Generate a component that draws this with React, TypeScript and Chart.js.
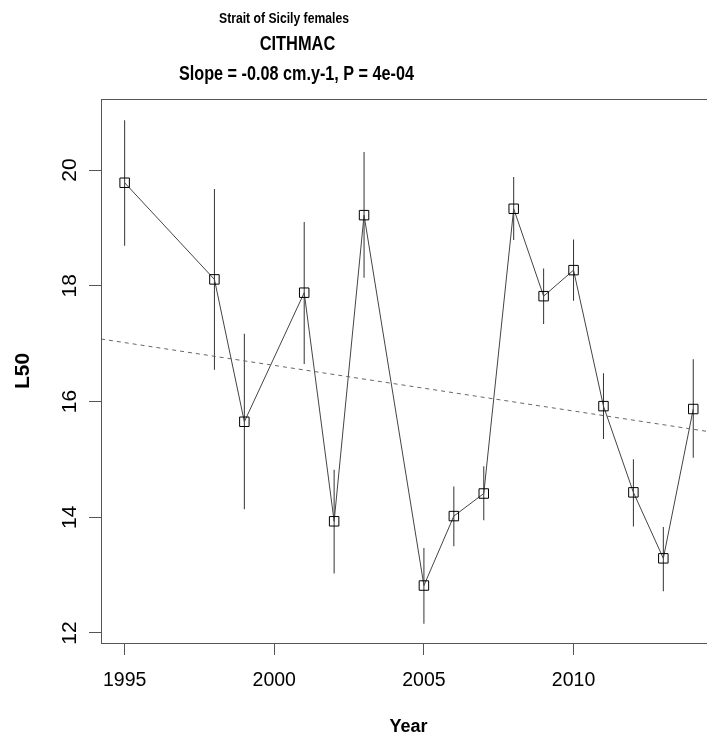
import React, { useEffect, useRef } from "react";
import { Chart, registerables } from "chart.js";

Chart.register(...registerables);

// ---- data ----
const years = [1995, 1998, 1999, 2001, 2002, 2003, 2005, 2006, 2007, 2008, 2009, 2010, 2011, 2012, 2013, 2014];
const l50 = [19.78, 18.11, 15.65, 17.88, 13.93, 19.22, 12.82, 14.02, 14.41, 19.33, 17.82, 18.27, 15.92, 14.43, 13.29, 15.87];
const ciLow = [18.69, 16.55, 14.14, 16.65, 13.03, 18.14, 12.16, 13.5, 13.95, 18.79, 17.34, 17.74, 15.35, 13.84, 12.72, 15.03];
const ciHigh = [20.86, 19.67, 17.17, 19.1, 14.82, 20.31, 13.47, 14.53, 14.88, 19.88, 18.3, 18.8, 16.49, 15.0, 13.83, 16.73];
const trendYears = [1994.21, 2014.76];
const trendL50 = [17.08, 15.46];
const xTicks = [1995, 2000, 2005, 2010];
const yTicks = [12, 14, 16, 18, 20];
const titleLines = ["Strait of Sicily females", "CITHMAC", "Slope = -0.08 cm.y-1, P = 4e-04"];
const xTitle = "Year";
const yTitle = "L50";

const FONT = '"Liberation Sans", Arial, Helvetica, sans-serif';

const titlePlugin = {
  id: "rTitles",
  afterDraw(chart: any) {
    const ctx = chart.ctx;
    const specs = [
      { size: 14.5, sx: 0.84, cx: 284, base: 22.5 },
      { size: 20.5, sx: 0.8, cx: 297.5, base: 50 },
      { size: 20.5, sx: 0.79, cx: 296.5, base: 80 },
    ];
    titleLines.forEach((t, i) => {
      const s = specs[i];
      ctx.save();
      ctx.font = `bold ${s.size}px ${FONT}`;
      ctx.fillStyle = "#000";
      ctx.textAlign = "center";
      ctx.textBaseline = "alphabetic";
      ctx.translate(s.cx, s.base);
      ctx.scale(s.sx, 1);
      ctx.fillText(t, 0, 0);
      ctx.restore();
    });
  },
};

const boxPlugin = {
  id: "rBox",
  afterDraw(chart: any) {
    const { left, top, right, bottom } = chart.chartArea;
    const ctx = chart.ctx;
    ctx.save();
    ctx.strokeStyle = "#555";
    ctx.lineWidth = 1;
    ctx.strokeRect(Math.round(left) + 0.5, Math.round(top) + 0.5, Math.round(right - left), Math.round(bottom - top));
    ctx.restore();
  },
};

export default function App() {
  const ref = useRef<HTMLCanvasElement | null>(null);

  useEffect(() => {
    if (!ref.current) return;
    Chart.defaults.font.family = FONT;
    const chart = new Chart(ref.current, {
      type: "line",
      data: {
        datasets: [
          {
            type: "bar",
            label: "CI",
            data: years.map((x, i) => ({ x, y: [ciLow[i], ciHigh[i]] })) as any,
            backgroundColor: "#333",
            borderWidth: 0,
            barThickness: 1,
            inflateAmount: 0,
            grouped: false,
            order: 3,
          } as any,
          {
            type: "line",
            label: "L50",
            data: years.map((x, i) => ({ x, y: l50[i] })),
            borderColor: "#444",
            borderWidth: 1,
            tension: 0,
            pointStyle: "rect",
            pointRadius: 6.7,
            pointHoverRadius: 6.7,
            pointBorderColor: "#000",
            pointBorderWidth: 1,
            pointBackgroundColor: "rgba(0,0,0,0)",
            fill: false,
            order: 2,
          },
          {
            type: "line",
            label: "trend",
            data: trendYears.map((x, i) => ({ x, y: trendL50[i] })),
            borderColor: "#666",
            borderWidth: 1,
            borderDash: [4, 4],
            pointRadius: 0,
            fill: false,
            order: 1,
          },
        ],
      },
      options: {
        responsive: false,
        animation: false,
        devicePixelRatio: 1,
        layout: { padding: { left: 0, top: 99, right: 24, bottom: 0 } },
        plugins: {
          legend: { display: false },
          tooltip: { enabled: false },
          title: { display: false },
        },
        scales: {
          x: {
            type: "linear",
            min: 1994.21,
            max: 2014.76,
            offset: false,
            afterBuildTicks: (s: any) => {
              s.ticks = xTicks.map((v) => ({ value: v }));
            },
            afterFit: (s: any) => {
              s.height = 94;
            },
            ticks: {
              includeBounds: false,
              autoSkip: false,
              maxRotation: 0,
              minRotation: 0,
              padding: 16,
              color: "#000",
              font: { size: 19.5, lineHeight: 1 },
              callback: (v: any) => String(v),
            },
            grid: {
              display: true,
              drawOnChartArea: false,
              drawTicks: true,
              tickLength: 12,
              tickColor: "#555",
              tickWidth: 1,
              offset: false,
            },
            border: { display: false },
            title: {
              display: true,
              text: xTitle,
              color: "#000",
              font: { size: 18, weight: "bold", lineHeight: 1 },
              padding: { top: 0, bottom: 1 },
            },
          },
          y: {
            type: "linear",
            min: 11.827,
            max: 21.227,
            afterBuildTicks: (s: any) => {
              s.ticks = yTicks.map((v) => ({ value: v }));
            },
            afterFit: (s: any) => {
              s.width = 101;
            },
            ticks: {
              includeBounds: false,
              autoSkip: false,
              minRotation: 90,
              maxRotation: 90,
              crossAlign: "center",
              padding: 7,
              color: "#000",
              font: { size: 21, lineHeight: 1 },
              callback: (v: any) => String(v),
            },
            grid: {
              display: true,
              drawOnChartArea: false,
              drawTicks: true,
              tickLength: 12,
              tickColor: "#555",
              tickWidth: 1,
            },
            border: { display: false },
            title: {
              display: true,
              text: yTitle,
              color: "#000",
              font: { size: 21, weight: "bold", lineHeight: 1 },
              padding: { top: 13, bottom: 0 },
            },
          },
        },
      },
      plugins: [titlePlugin, boxPlugin],
    } as any);
    return () => chart.destroy();
  }, []);

  return (
    <div
      style={{
        position: "absolute",
        left: 0,
        top: 0,
        width: 707,
        height: 737,
        overflow: "hidden",
        background: "#fff",
      }}
    >
      <canvas ref={ref} width={740} height={737} style={{ display: "block", width: 740, height: 737 }} />
    </div>
  );
}
